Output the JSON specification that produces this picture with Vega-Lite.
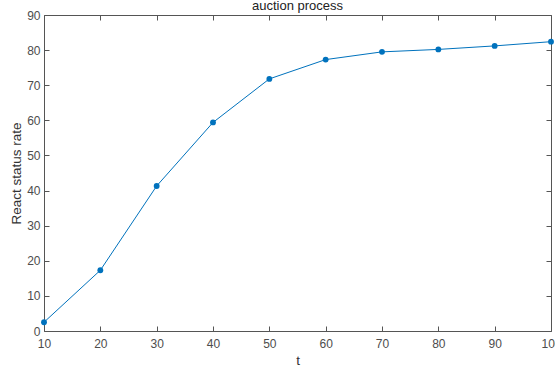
{
  "$schema": "https://vega.github.io/schema/vega-lite/v6.json",
  "width": 507,
  "height": 316,
  "autosize": {"type": "none"},
  "padding": {"left": 44, "top": 15, "right": 4, "bottom": 40},
  "background": "white",
  "title": {
    "text": "auction process",
    "font": "Liberation Sans",
    "fontSize": 13,
    "fontWeight": "normal",
    "color": "#222222",
    "anchor": "middle",
    "offset": -4
  },
  "config": {
    "view": {"stroke": null},
    "axis": {
      "labelFont": "Liberation Sans",
      "titleFont": "Liberation Sans",
      "labelFontSize": 12,
      "titleFontSize": 13.5,
      "titleFontWeight": "normal",
      "labelColor": "#4d4d4d",
      "titleColor": "#333333",
      "domainColor": "#555555",
      "tickColor": "#555555",
      "domainWidth": 1,
      "tickWidth": 1,
      "labelFlush": false,
      "labelOverlap": false,
      "grid": false
    }
  },
  "data": {
    "values": [
      {"t": 10, "rate": 2.5},
      {"t": 20, "rate": 17.3},
      {"t": 30, "rate": 41.3},
      {"t": 40, "rate": 59.4},
      {"t": 50, "rate": 71.8},
      {"t": 60, "rate": 77.3},
      {"t": 70, "rate": 79.5},
      {"t": 80, "rate": 80.2},
      {"t": 90, "rate": 81.2},
      {"t": 100, "rate": 82.4}
    ]
  },
  "layer": [
    {
      "mark": {"type": "line", "color": "#0072BD", "strokeWidth": 1, "clip": false},
      "encoding": {
        "x": {
          "field": "t",
          "type": "quantitative",
          "scale": {"domain": [10, 100], "nice": false, "zero": false},
          "axis": {
            "title": "t",
            "values": [10, 20, 30, 40, 50, 60, 70, 80, 90, 100],
            "tickSize": -5,
            "labelPadding": 12,
            "titlePadding": 4
          }
        },
        "y": {
          "field": "rate",
          "type": "quantitative",
          "scale": {"domain": [0, 90], "nice": false},
          "axis": {
            "title": "React status rate",
            "values": [0, 10, 20, 30, 40, 50, 60, 70, 80, 90],
            "tickSize": -5,
            "labelPadding": 9,
            "titlePadding": 3
          }
        }
      }
    },
    {
      "mark": {"type": "point", "filled": true, "opacity": 1, "color": "#0072BD", "size": 34, "clip": false},
      "encoding": {
        "x": {
          "field": "t",
          "type": "quantitative",
          "axis": {
            "orient": "top",
            "title": null,
            "labels": false,
            "values": [10, 20, 30, 40, 50, 60, 70, 80, 90, 100],
            "tickSize": -5
          }
        },
        "y": {
          "field": "rate",
          "type": "quantitative",
          "axis": {
            "orient": "right",
            "title": null,
            "labels": false,
            "values": [0, 10, 20, 30, 40, 50, 60, 70, 80, 90],
            "tickSize": -5
          }
        }
      }
    }
  ],
  "resolve": {"axis": {"x": "independent", "y": "independent"}}
}
